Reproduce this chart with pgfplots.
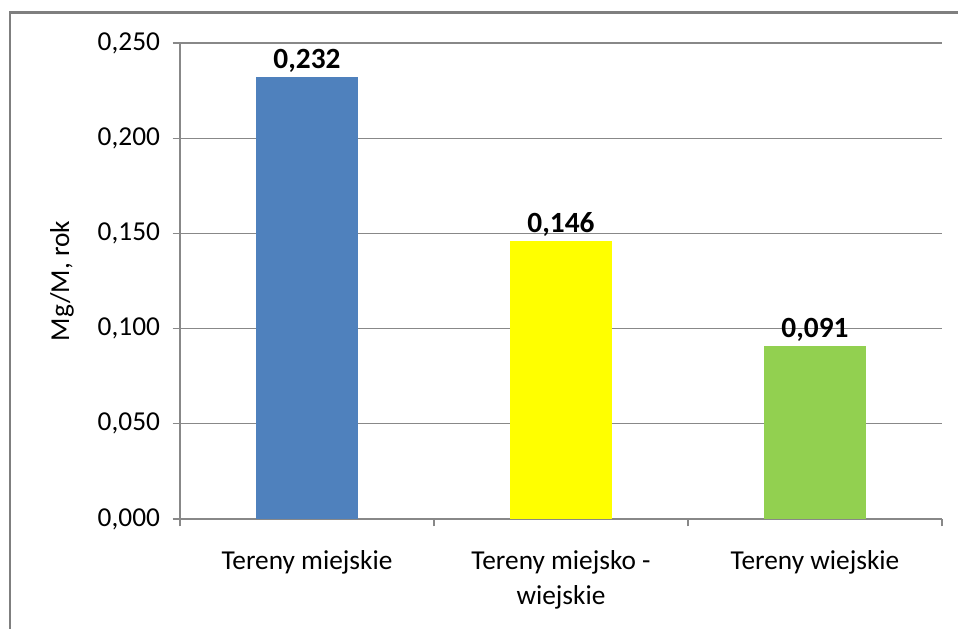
\documentclass[border=0pt]{standalone}
\usepackage{pgfplots}
\pgfplotsset{compat=1.18}
\usepackage{fontspec}
\setmainfont{Carlito}
\definecolor{cblue}{HTML}{4F81BD}
\definecolor{cyel}{HTML}{FFFF00}
\definecolor{cgreen}{HTML}{92D050}
\definecolor{cgrid}{HTML}{888888}
\definecolor{cframe}{HTML}{7F7F7F}
\newcommand{\fs}{\fontsize{20.5pt}{26.5pt}\selectfont}
\newcommand{\fb}{\fontsize{22pt}{26pt}\selectfont\bfseries}
\begin{document}
\begin{tikzpicture}
\useasboundingbox (0,0) rectangle (718.5pt,471.75pt);
\fill[cframe] (6.6pt,0pt) rectangle (8.4pt,463.4pt);
\fill[cframe] (6.6pt,461.6pt) rectangle (718.5pt,463.4pt);
\begin{axis}[
  at={(135pt,82.5pt)}, anchor=south west,
  scale only axis, width=571.5pt, height=357pt,
  ymin=0, ymax=0.25, xmin=-0.5, xmax=2.5,
  ybar, bar width=0.4,
  axis x line*=bottom, axis y line*=left,
  axis line style={cgrid, line width=0.9pt},
  ymajorgrids, grid style={cgrid, line width=0.9pt},
  tick align=outside, major tick length=5.5pt,
  tick style={cgrid, line width=0.9pt},
  ytick={0,0.05,0.1,0.15,0.2,0.25},
  yticklabel={\pgfmathprintnumber[fixed,fixed zerofill,precision=3,use comma,assume math mode=true]{\tick}},
  yticklabel style={font=\fs, xshift=-6pt},
  xtick={-0.5,0.5,1.5,2.5}, xticklabels={},
  extra x ticks={0,1,2},
  extra x tick labels={Tereny miejskie,{Tereny miejsko -\\wiejskie},Tereny wiejskie},
  extra x tick style={major tick length=0pt, grid=none, tick label style={align=center, font=\fs, yshift=-20pt}},
  ylabel={Mg/M, rok},
  ylabel style={font=\fs, at={(axis description cs:-0.155,0.5)}, anchor=center},
  nodes near coords={\pgfmathprintnumber[fixed,fixed zerofill,precision=3,use comma,assume math mode=true]{\pgfplotspointmeta}},
  nodes near coords style={font=\fb, text=black, anchor=south, yshift=0pt},
]
\addplot[fill=cblue, draw=none, bar shift=0pt] coordinates {(0,0.232)};
\addplot[fill=cyel, draw=none, bar shift=0pt] coordinates {(1,0.146)};
\addplot[fill=cgreen, draw=none, bar shift=0pt] coordinates {(2,0.091)};
\end{axis}
\end{tikzpicture}
\end{document}
